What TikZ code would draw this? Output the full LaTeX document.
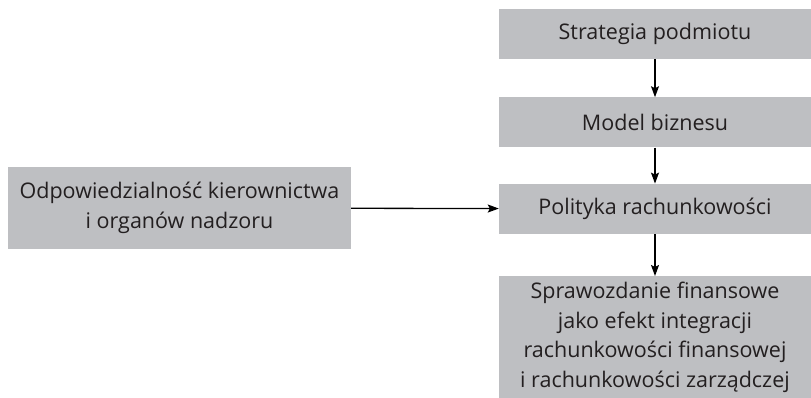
\documentclass[tikz,border=0pt]{standalone}
\usepackage{fontspec}
\setmainfont{Open Sans}
\usepackage{tikz}
\usetikzlibrary{positioning,arrows.meta}
\definecolor{boxgray}{RGB}{190,191,194}
\definecolor{txtgray}{RGB}{35,31,32}

\begin{document}
\begin{tikzpicture}
    \tikzstyle{every node} = [font=\fontsize{21.5}{29.7}\selectfont, text=txtgray]
    \tikzstyle{block} = [rectangle, fill=boxgray, inner sep=0pt, minimum width=312pt, minimum height=50pt, align=center]
    \useasboundingbox (0,0) rectangle (811pt,-397pt);
    % place nodes
    \node[block](strategia) at (655pt,-34pt){Strategia podmiotu};
    \node[block,below=38pt of strategia](model){Model biznesu};
    \node[block,below=36pt of model](polityka){Polityka rachunkowości};
    \node[block,below=42pt of polityka,minimum height=122pt](sprawozdanie){Sprawozdanie finansowe\\jako efekt integracji\\rachunkowości finansowej\\i rachunkowości zarządczej};
    \node[block,minimum width=343pt,minimum height=82pt](odpowiedzialnosc) at (179.5pt,-208pt){Odpowiedzialność kierownictwa\\i organów nadzoru};

    % Connections
    \draw[-{Stealth[length=11pt,width=8pt,inset=2pt]},line width=1.3pt]
    (strategia)--(model);
    \draw[-{Stealth[length=11pt,width=8pt,inset=2pt]},line width=1.3pt]
    (model)--(polityka);
    \draw[-{Stealth[length=11pt,width=8pt,inset=2pt]},line width=1.3pt]
    (polityka)--(sprawozdanie);
    \draw[-{Stealth[length=11pt,width=8pt,inset=2pt]},line width=1.3pt]
    (odpowiedzialnosc)--(polityka);

\end{tikzpicture}
\end{document}
